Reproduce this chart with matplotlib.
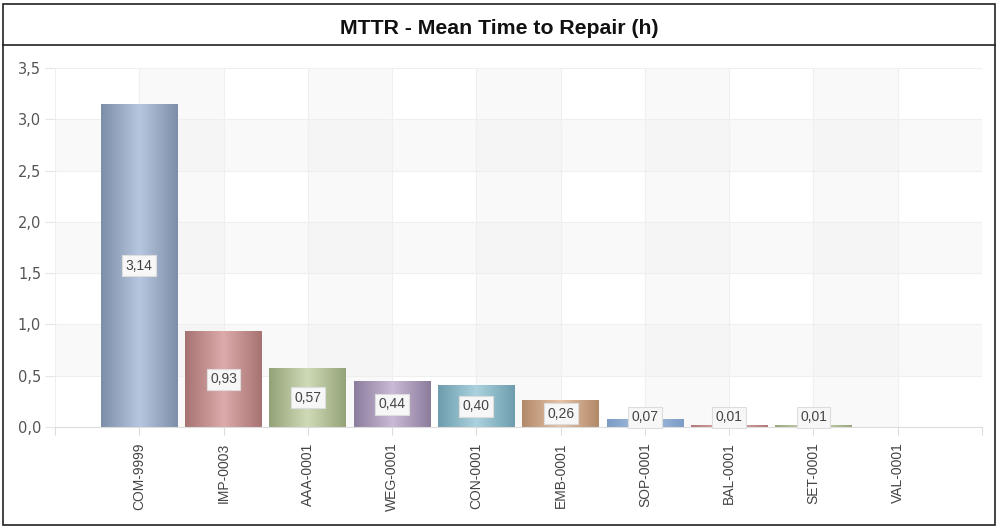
import numpy as np
import matplotlib
matplotlib.use("Agg")
import matplotlib.pyplot as plt
from matplotlib.colors import LinearSegmentedColormap
from matplotlib.patches import Rectangle

# Data
machines = ['COM-9999', 'IMP-0003', 'AAA-0001', 'WEG-0001', 'CON-0001',
            'EMB-0001', 'SOP-0001', 'BAL-0001', 'SET-0001', 'VAL-0001']
mttr = [3.14, 0.93, 0.57, 0.44, 0.40, 0.26, 0.07, 0.01, 0.01, 0.0]
y_ticks = [0.0, 0.5, 1.0, 1.5, 2.0, 2.5, 3.0, 3.5]

# bar gradient colours: (edge, centre)
bar_colors = [('#7d8ea8', '#b6c6de'), ('#a77272', '#dcaaaa'), ('#94a379', '#cedab6'),
              ('#8d7d9d', '#c9b9d6'), ('#6e9dad', '#aad2de'), ('#b28a6a', '#e6c2a6'),
              ('#7c9cc6', '#aac2e2'), ('#b07878', '#e0b0b0'), ('#98a87c', '#d0dcb8'),
              ('#7d8ea8', '#b6c6de')]

fig = plt.figure(figsize=(9.99, 5.31), dpi=100)
ax = fig.add_axes([55 / 999, 104 / 531, 927 / 999, 359 / 531])

x = np.arange(len(machines))
width = 0.91

# checker-like background bands
for i, y0 in enumerate(y_ticks[:-1]):
    if i % 2 == 1:
        ax.axhspan(y0, y0 + 0.5, color='#f6f6f6', alpha=0.6, lw=0, zorder=0)
for i in range(-1, 10):
    if i % 2 == 0:
        ax.axvspan(i, i + 1, color='#f0f0f0', alpha=0.35, lw=0, zorder=0)

grad = np.concatenate([np.linspace(0, 1, 50), np.linspace(1, 0, 50)])[None, :]
for xi, v, (c_edge, c_mid) in zip(x, mttr, bar_colors):
    if v <= 0:
        continue
    cmap = LinearSegmentedColormap.from_list('g', [c_edge, c_mid])
    ax.imshow(grad, cmap=cmap, aspect='auto', interpolation='bicubic',
              extent=(xi - width / 2, xi + width / 2, 0, v), zorder=2)
    label_y = max(v / 2, 0.095)
    ax.text(xi, label_y, f'{v:.2f}'.replace('.', ','), ha='center', va='center',
            fontsize=10, color='#444444', family='Liberation Sans', zorder=3,
            bbox=dict(boxstyle='square,pad=0.25', fc='#f7f7f7', ec='#dddddd', lw=0.8))

ax.set_xlim(-1, 10)
ax.set_ylim(0, 3.5)

ax.set_xticks(range(-1, 11))
ax.set_xticklabels([''] + machines + [''], rotation=90, family='Liberation Sans',
                   fontsize=10, color='#444444')
ax.set_yticks(y_ticks)
ax.set_yticklabels([f'{t:.1f}'.replace('.', ',') for t in y_ticks],
                   family='DejaVu Sans', fontsize=10.5, color='#555555')
ax.tick_params(axis='x', length=6, color='#dddddd', pad=5)
ax.tick_params(axis='y', length=7, color='#e6e6e6', pad=3)
ax.grid(True, color='#efefef', lw=0.8, zorder=1)
ax.set_axisbelow(True)
for side in ['top', 'right', 'left']:
    ax.spines[side].set_visible(False)
ax.spines['bottom'].set_color('#dddddd')

# frame and title bar
fig.patches.append(Rectangle((3 / 999, 1 - 525 / 531), 992 / 999, 521 / 531,
                             transform=fig.transFigure, fill=False, ec='#222222', lw=1.2))
fig.lines.append(plt.Line2D([3 / 999, 995 / 999], [1 - 45 / 531] * 2,
                            transform=fig.transFigure, color='#222222', lw=1.2))
fig.text(0.5, 1 - 29 / 531, 'MTTR - Mean Time to Repair (h)', ha='center', va='center',
         fontsize=15.3, fontweight='bold', family='Liberation Sans', color='#111111')

fig.savefig('out.png', dpi=100, facecolor='white')
